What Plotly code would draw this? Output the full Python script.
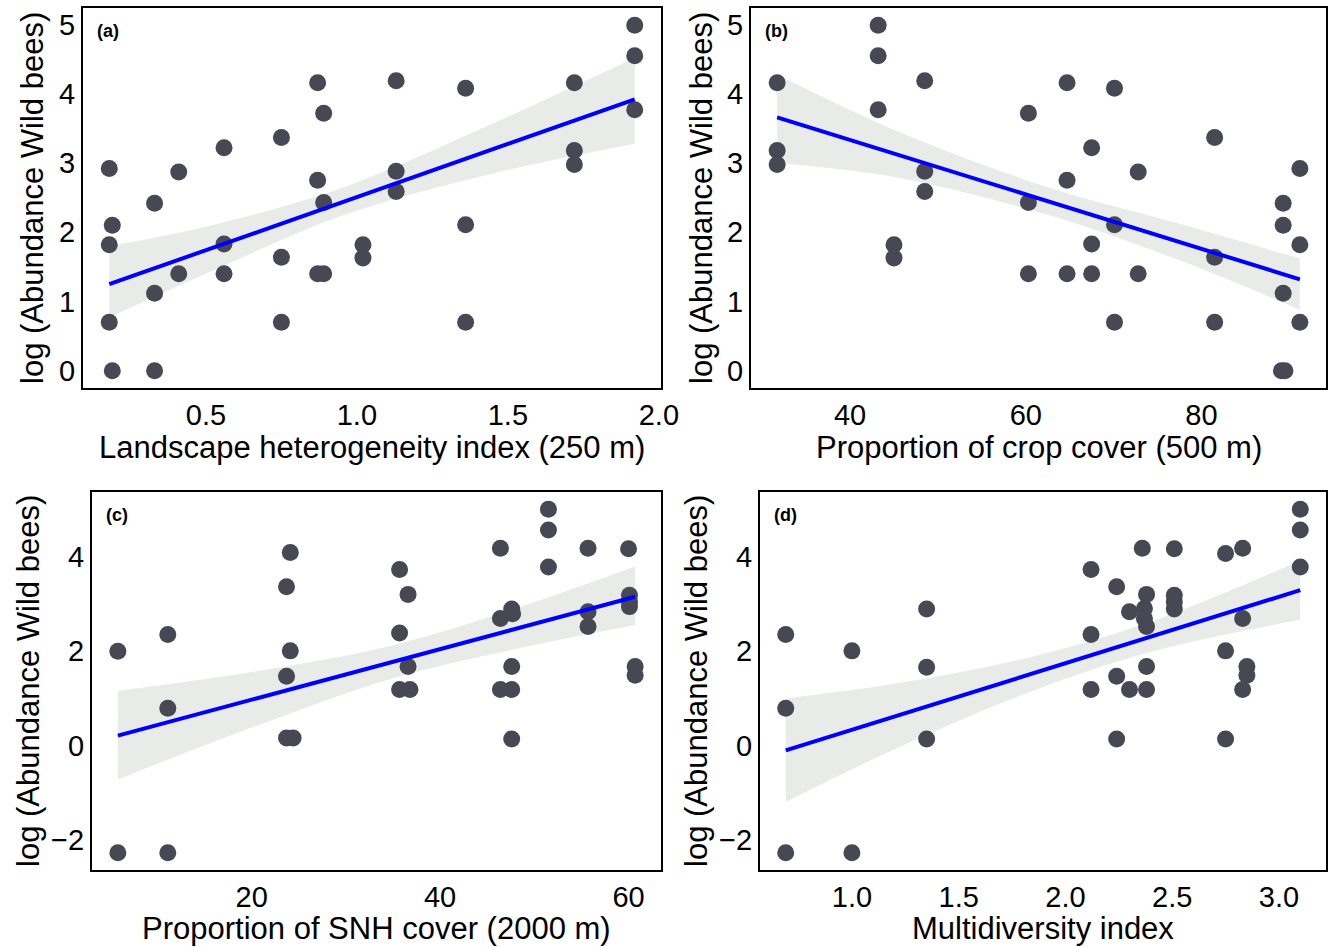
import numpy as np
import plotly.graph_objects as go

# pontos (log da abundância de abelhas silvestres)
hetero_x = [0.18, 0.19, 0.18, 0.18, 0.19, 0.33, 0.33, 0.33, 0.41, 0.41, 0.56, 0.56, 0.56,
            0.75, 0.75, 0.75, 0.87, 0.87, 0.87, 0.89, 0.89, 0.89, 1.02, 1.02, 1.13, 1.13,
            1.13, 1.36, 1.36, 1.36, 1.72, 1.72, 1.72, 1.92, 1.92, 1.92]
hetero_y = [2.92, 2.10, 1.82, 0.70, 0.0, 2.42, 1.12, 0.0, 2.87, 1.40, 3.22, 1.83, 1.40,
            3.37, 1.64, 0.70, 4.16, 2.75, 1.40, 1.40, 3.72, 2.43, 1.82, 1.63, 4.19, 2.88,
            2.59, 4.08, 2.11, 0.70, 4.16, 3.18, 2.98, 4.99, 4.55, 3.77]

crop_x = [31.7, 31.7, 31.7, 43.2, 43.2, 43.2, 45.0, 45.0, 48.5, 48.5, 48.5, 60.3, 60.3,
          60.3, 64.7, 64.7, 64.7, 67.5, 67.5, 67.5, 70.1, 70.1, 70.1, 72.8, 72.8, 81.5,
          81.5, 81.5, 89.3, 89.3, 89.3, 89.1, 89.5, 91.2, 91.2, 91.2]
crop_y = [4.16, 3.18, 2.98, 4.99, 4.55, 3.77, 1.82, 1.63, 4.19, 2.88, 2.59, 3.72, 2.43,
          1.40, 4.16, 2.75, 1.40, 3.22, 1.83, 1.40, 4.08, 2.11, 0.70, 2.87, 1.40, 3.37,
          1.64, 0.70, 2.42, 2.10, 1.12, 0.0, 0.0, 2.92, 1.82, 0.70]

snh_x = [5.8, 5.8, 11.1, 11.1, 11.1, 24.1, 23.7, 24.1, 23.7, 23.7, 24.4, 35.7, 36.6,
         35.7, 36.6, 35.7, 36.8, 46.4, 46.4, 47.6, 47.7, 47.6, 46.4, 47.6, 47.6, 51.5,
         51.5, 51.5, 55.7, 55.7, 55.7, 60.0, 60.1, 60.1, 60.1, 60.7, 60.7]
snh_y = [2.00, -2.28, 2.36, 0.79, -2.28, 4.10, 3.37, 2.01, 1.47, 0.16, 0.16, 3.74, 3.21,
         2.39, 1.68, 1.19, 1.19, 4.19, 2.70, 2.90, 2.80, 1.68, 1.19, 1.19, 0.14, 5.02,
         4.58, 3.79, 4.19, 2.84, 2.53, 4.18, 3.19, 3.05, 2.95, 1.68, 1.49]

multi_x = [0.69, 0.69, 0.69, 1.00, 1.00, 1.35, 1.35, 1.35, 2.12, 2.12, 2.12, 2.24, 2.24,
           2.24, 2.30, 2.30, 2.36, 2.37, 2.37, 2.38, 2.38, 2.38, 2.38, 2.51, 2.51, 2.51,
           2.51, 2.75, 2.83, 2.83, 2.75, 2.75, 2.85, 2.85, 2.83, 3.10, 3.10, 3.10]
multi_y = [2.36, 0.79, -2.28, 2.01, -2.28, 2.90, 1.66, 0.14, 3.74, 2.36, 1.19, 3.37, 1.47,
           0.14, 2.84, 1.19, 4.19, 2.91, 2.70, 2.53, 3.21, 1.68, 1.19, 4.18, 3.19, 3.05,
           2.90, 4.08, 4.19, 2.70, 2.01, 0.14, 1.68, 1.49, 1.19, 5.02, 4.58, 3.79]

# retas ajustadas (extremos)
fit_x = [[0.18, 1.92], [31.7, 91.2], [5.8, 60.7], [0.69, 3.10]]
fit_y = [[1.25, 3.92], [3.66, 1.32], [0.21, 3.16], [-0.105, 3.30]]

# faixa de confiança (limites)
band_x = [[0.18, 0.5, 0.95, 1.45, 1.92], [31.7, 45, 62, 77, 91.2],
          [5.8, 20, 35, 48, 60.7], [0.69, 1.2, 1.8, 2.4, 3.10]]
band_lo = [[0.77, 1.40, 2.24, 2.85, 3.28], [3.00, 2.80, 2.27, 1.62, 0.88],
           [-0.72, 0.38, 1.43, 2.05, 2.56], [-1.20, -0.08, 1.08, 1.99, 2.67]]
band_hi = [[1.80, 2.08, 2.64, 3.57, 4.52], [4.28, 3.48, 2.67, 2.14, 1.62],
           [1.16, 1.56, 2.13, 2.91, 3.80], [1.00, 1.31, 1.84, 2.63, 3.93]]

x_titles = ['Landscape heterogeneity index (250 m)', 'Proportion of crop cover (500 m)',
            'Proportion of SNH cover (2000 m)', 'Multidiversity index']
y_title = 'log (Abundance Wild bees)'
labels = ['(a)', '(b)', '(c)', '(d)']
x_ticks = [[0.5, 1.0, 1.5, 2.0], [40, 60, 80], [20, 40, 60], [1.0, 1.5, 2.0, 2.5, 3.0]]
y_ticks = [[0, 1, 2, 3, 4, 5], [0, 1, 2, 3, 4, 5], [-2, 0, 2, 4], [-2, 0, 2, 4]]
tick_fmt = ['.1f', 'd', 'd', '.1f']

W, H = 1328, 947
# caixas dos painéis em pixels (esq, dir, topo, base)
boxes = [(83, 661, 8, 388), (751, 1326, 8, 388), (92, 661, 492, 870), (760, 1326, 492, 870)]
ytitle_x = [33, 702, 28, 696]
xtitle_y = [448, 448, 928, 928]

FONT = 'Liberation Sans, Arial, sans-serif'


def faixa(v, frac=0.05):
    lo, hi = min(v), max(v)
    d = (hi - lo) * frac
    return [lo - d, hi + d]


fig = go.Figure()
dados = [(hetero_x, hetero_y), (crop_x, crop_y), (snh_x, snh_y), (multi_x, multi_y)]

for i, (xs, ys) in enumerate(dados):
    k = '' if i == 0 else str(i + 1)
    ax = dict(xaxis='x' + k, yaxis='y' + k, showlegend=False)
    # faixa cinza
    fig.add_trace(go.Scatter(x=band_x[i], y=band_lo[i], mode='lines', line=dict(width=0, shape='spline'),
                             hoverinfo='skip', **ax))
    fig.add_trace(go.Scatter(x=band_x[i], y=band_hi[i], mode='lines', line=dict(width=0, shape='spline'),
                             fill='tonexty', fillcolor='rgba(200,206,200,0.4)', hoverinfo='skip', **ax))
    # pontos
    fig.add_trace(go.Scatter(x=xs, y=ys, mode='markers', marker=dict(size=17, color='#474853'), **ax))
    # reta
    fig.add_trace(go.Scatter(x=fit_x[i], y=fit_y[i], mode='lines',
                             line=dict(color='#0000ff', width=4), **ax))

    l, r, t, b = boxes[i]
    eixo = dict(showline=True, mirror=True, linecolor='black', linewidth=2, showgrid=False,
                zeroline=False, ticks='', tickfont=dict(family=FONT, size=29, color='black'),
                ticklabelstandoff=0)
    fig.layout['xaxis' + k] = dict(eixo, domain=[l / W, r / W], anchor='y' + k,
                                   range=faixa(xs), tickvals=x_ticks[i], tickformat=tick_fmt[i])
    fig.layout['yaxis' + k] = dict(eixo, domain=[1 - b / H, 1 - t / H], anchor='x' + k,
                                   range=faixa(ys), tickvals=y_ticks[i])

    fig.add_annotation(text=labels[i], x=(l + 12) / W, y=1 - (t + 23) / H, xref='paper', yref='paper',
                       xanchor='left', yanchor='middle', showarrow=False,
                       font=dict(family=FONT, size=18, color='black', weight='bold'))
    fig.add_annotation(text=x_titles[i], x=(l + r) / 2 / W, y=1 - xtitle_y[i] / H, xref='paper',
                       yref='paper', xanchor='center', yanchor='middle', showarrow=False,
                       font=dict(family=FONT, size=31, color='black'))
    fig.add_annotation(text=y_title, x=ytitle_x[i] / W, y=1 - (t + b) / 2 / H, xref='paper',
                       yref='paper', xanchor='center', yanchor='middle', textangle=-90,
                       showarrow=False, font=dict(family=FONT, size=31, color='black'))

fig.update_layout(width=W, height=H, margin=dict(l=0, r=0, t=0, b=0), template='none',
                  paper_bgcolor='white', plot_bgcolor='white')

# tira a margem padrão do body para o gráfico ocupar a janela inteira
fig.write_html('out.html', config={'displayModeBar': False},
               post_script="document.body.style.margin='0';")
